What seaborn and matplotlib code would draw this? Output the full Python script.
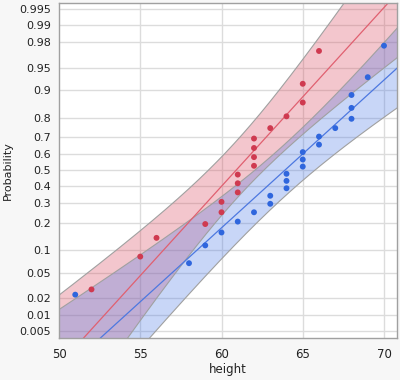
import numpy as np
import pandas as pd
import matplotlib
matplotlib.use("Agg")
import matplotlib.pyplot as plt
import seaborn as sns
from statistics import NormalDist

# ---- data ----
red_height = [52, 55, 56, 59, 60, 60, 61, 61, 61, 62, 62, 62, 62, 63, 64, 65, 65, 66]
red_prob = [0.028, 0.083, 0.139, 0.194, 0.25, 0.306, 0.361, 0.417, 0.472, 0.528,
            0.583, 0.639, 0.694, 0.75, 0.806, 0.861, 0.917, 0.972]
blue_height = [51, 58, 59, 60, 61, 62, 63, 63, 64, 64, 64, 65, 65, 65, 66, 66, 67,
               68, 68, 68, 69, 70]
blue_prob = [0.023, 0.068, 0.114, 0.159, 0.205, 0.25, 0.295, 0.341, 0.386, 0.432,
             0.477, 0.523, 0.568, 0.614, 0.659, 0.705, 0.75, 0.795, 0.841, 0.886,
             0.932, 0.977]
# fitted normal parameters (location, scale) and group sizes
red_fit = (60.9, 3.49, 18)
blue_fit = (63.9, 4.22, 22)

prob_ticks = [0.005, 0.01, 0.02, 0.05, 0.1, 0.2, 0.3, 0.4, 0.5, 0.6, 0.7, 0.8,
              0.9, 0.95, 0.98, 0.99, 0.995]
prob_labels = ["0.005", "0.01", "0.02", "0.05", "0.1", "0.2", "0.3", "0.4", "0.5",
               "0.6", "0.7", "0.8", "0.9", "0.95", "0.98", "0.99", "0.995"]
x_ticks = [50, 55, 60, 65, 70]

nd = NormalDist()
probit = lambda p: nd.inv_cdf(p)

sns.set_style("white")
plt.rcParams['font.family'] = ['DejaVu Sans']

fig = plt.figure(figsize=(4.0, 3.8), dpi=100, facecolor="#f7f7f7")
ax = fig.add_axes([59 / 400, 42 / 380, 338 / 400, 335 / 380])
ax.set_facecolor("white")

x_lo, x_hi = 50, 70.8
z_lo, z_hi = -2.69, 2.68

# gridlines
for p in prob_ticks:
    ax.axhline(probit(p), color="#dcdcdc", lw=1.0, zorder=0)
for xv in x_ticks[1:]:
    ax.axvline(xv, color="#dcdcdc", lw=1.0, zorder=0)

groups = [
    (red_height, red_prob, red_fit, "#d9455a", "#e06070", "#cf3a50"),
    (blue_height, blue_prob, blue_fit, "#4a78e6", "#4d78e0", "#2f66dd"),
]
xs = np.linspace(x_lo - 1, x_hi + 1, 400)
for hts, probs, (mu, sd, n), fillc, linec, ptc in groups:
    zh = (xs - mu) / sd
    w = 1.96 * np.sqrt((1 + zh ** 2 / 2) / n)
    ax.fill_between(xs, zh - w, zh + w, color=fillc, alpha=0.3, lw=0, zorder=1)
    ax.plot(xs, zh - w, color="#a0a0a0", lw=0.8, zorder=1.1)
    ax.plot(xs, zh + w, color="#a0a0a0", lw=0.8, zorder=1.1)
    line_df = pd.DataFrame({"x": xs, "z": zh})
    sns.lineplot(data=line_df, x="x", y="z", ax=ax, color=linec, lw=0.9, zorder=1.2)
    pts = pd.DataFrame({"height": hts, "z": [probit(p) for p in probs]})
    sns.scatterplot(data=pts, x="height", y="z", ax=ax, color=ptc, s=18,
                    edgecolor="none", zorder=1.3)

ax.set_xlim(x_lo, x_hi)
ax.set_ylim(z_lo, z_hi)
ax.set_yticks([probit(p) for p in prob_ticks])
ax.set_yticklabels(prob_labels)
ax.set_xticks(x_ticks)
ax.set_xticks([52.5, 57.5, 62.5, 67.5], minor=True)
ax.tick_params(axis="both", which="major", labelsize=8, length=4, width=0.8,
               color="#a0a0a0", labelcolor="#222222", pad=2, direction="out")
ax.tick_params(axis="x", which="minor", length=3, width=0.8, color="#a0a0a0",
               direction="out")
ax.tick_params(axis="x", which="major", labelsize=8.5, pad=3)
for s in ax.spines.values():
    s.set_color("#a0a0a0")
    s.set_linewidth(1.0)
ax.set_xlabel("height", fontsize=8.5, color="#222222", labelpad=2)
ax.set_ylabel("Probability", fontsize=8, color="#222222", labelpad=4)

fig.savefig("out.png", dpi=100, facecolor=fig.get_facecolor())
